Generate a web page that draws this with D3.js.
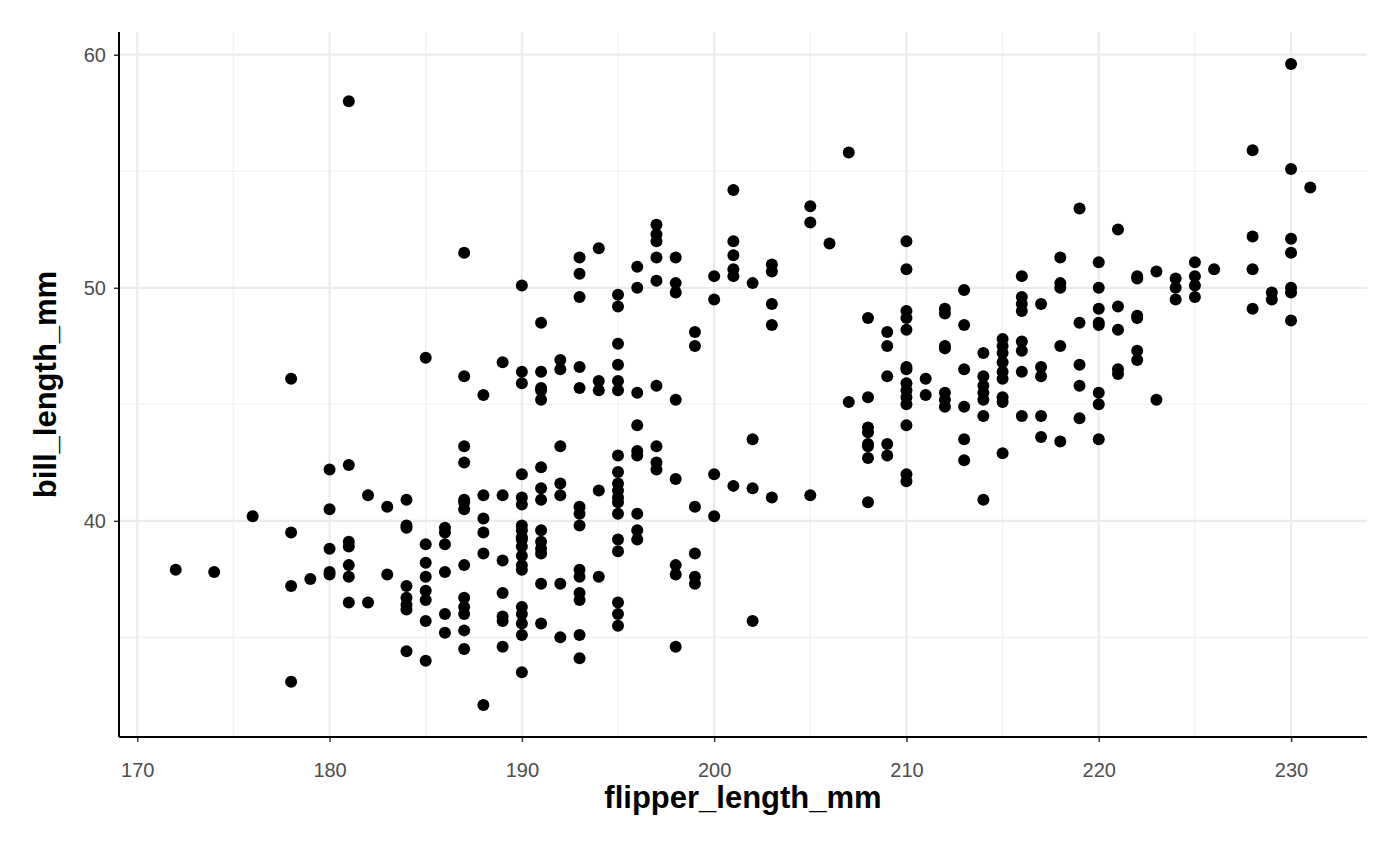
<!DOCTYPE html>
<html>
<head>
<meta charset="utf-8">
<script src="https://cdn.jsdelivr.net/npm/d3@7"></script>
<style>
  body { margin: 0; background: #fff; }
  svg text { font-family: "Liberation Sans", Arial, sans-serif; }
</style>
</head>
<body>
<svg id="chart"></svg>
<script>
"use strict";

// flipper length values (integer mm) and the bill lengths seen at each one
const flipperValues = [172, 174, 176, 178, 179, 180, 181, 182, 183, 184, 185, 186, 187, 188, 189,
    190, 191, 192, 193, 194, 195, 196, 197, 198, 199, 200, 201, 202, 203, 205, 206, 207, 208, 209,
    210, 211, 212, 213, 214, 215, 216, 217, 218, 219, 220, 221, 222, 223, 224, 225, 226, 228, 229,
    230, 231];

const billLengths = [
    [37.9],
    [37.8],
    [40.2],
    [46.1, 39.5, 37.2, 33.1],
    [37.5],
    [42.2, 40.5, 38.8, 37.8, 37.7],
    [58.0, 42.4, 39.1, 38.9, 38.1, 37.6, 36.5],
    [41.1, 36.5],
    [40.6, 37.7],
    [40.9, 39.8, 39.7, 37.2, 36.7, 36.4, 36.2, 34.4],
    [47.0, 39.0, 38.2, 37.6, 37.0, 36.6, 35.7, 34.0],
    [39.7, 39.5, 39.0, 37.8, 36.0, 35.2],
    [51.5, 46.2, 43.2, 42.5, 40.9, 40.8, 40.5, 38.1, 36.7, 36.3, 36.0, 35.3, 34.5],
    [45.4, 41.1, 40.1, 39.5, 38.6, 32.1],
    [46.8, 41.1, 38.3, 36.9, 35.9, 35.7, 34.6],
    [50.1, 46.4, 45.9, 42.0, 41.0, 40.7, 39.8, 39.6, 39.3, 39.2, 38.9, 38.5, 38.1, 37.9, 36.3, 36.0, 35.6, 35.1, 33.5],
    [48.5, 46.4, 45.7, 45.6, 45.2, 42.3, 41.4, 40.9, 39.6, 39.1, 38.8, 38.6, 37.3, 35.6],
    [46.9, 46.5, 43.2, 41.6, 41.1, 37.3, 35.0],
    [51.3, 50.6, 49.6, 46.6, 45.7, 40.6, 40.3, 39.8, 37.9, 37.6, 36.9, 36.6, 35.1, 34.1],
    [51.7, 46.0, 45.6, 41.3, 37.6],
    [49.7, 49.2, 47.6, 46.7, 46.0, 45.6, 42.8, 42.1, 41.6, 41.3, 41.0, 40.8, 40.3, 39.2, 38.7, 36.5, 36.0, 35.5],
    [50.9, 50.0, 45.5, 44.1, 43.0, 42.8, 40.3, 39.6, 39.2],
    [52.7, 52.3, 52.0, 51.3, 50.3, 45.8, 43.2, 42.5, 42.2],
    [51.3, 50.2, 49.8, 45.2, 41.8, 38.1, 37.7, 34.6],
    [48.1, 47.5, 40.6, 38.6, 37.6, 37.3],
    [50.5, 49.5, 42.0, 40.2],
    [54.2, 52.0, 51.4, 50.8, 50.5, 41.5],
    [50.2, 43.5, 41.4, 35.7],
    [51.0, 50.7, 49.3, 48.4, 41.0],
    [53.5, 52.8, 41.1],
    [51.9],
    [55.8, 45.1],
    [48.7, 45.3, 44.0, 43.8, 43.3, 43.2, 42.7, 40.8],
    [48.1, 47.5, 46.2, 43.3, 42.8],
    [52.0, 50.8, 49.0, 48.7, 48.2, 46.6, 46.5, 45.9, 45.6, 45.3, 45.0, 44.1, 42.0, 41.7],
    [46.1, 45.4],
    [49.1, 48.9, 47.5, 47.4, 45.5, 45.2, 44.9],
    [49.9, 48.4, 46.5, 44.9, 43.5, 42.6],
    [47.2, 46.2, 45.8, 45.5, 45.2, 44.5, 40.9],
    [47.8, 47.5, 47.2, 46.8, 46.4, 46.1, 45.3, 45.1, 42.9],
    [50.5, 49.6, 49.3, 49.0, 47.7, 47.3, 46.4, 44.5],
    [49.3, 46.6, 46.2, 44.5, 43.6],
    [51.3, 50.2, 50.0, 47.5, 43.4],
    [53.4, 48.5, 46.7, 45.8, 44.4],
    [51.1, 50.0, 49.1, 48.5, 48.4, 45.5, 45.0, 43.5],
    [52.5, 49.2, 48.2, 46.5, 46.3],
    [50.5, 50.4, 48.8, 48.7, 47.3, 46.9],
    [50.7, 45.2],
    [50.4, 50.0, 49.5],
    [51.1, 50.5, 50.1, 49.6],
    [50.8],
    [55.9, 52.2, 50.8, 49.1],
    [49.8, 49.5],
    [59.6, 55.1, 52.1, 51.5, 50.0, 49.8, 48.6],
    [54.3]
];

const xTicks = [170, 180, 190, 200, 210, 220, 230];
const xMinor = [175, 185, 195, 205, 215, 225];
const yTicks = [40, 50, 60];
const yMinor = [35, 45, 55];

const points = [];
flipperValues.forEach((f, i) => {
    billLengths[i].forEach(b => points.push({ flipper: f, bill: b }));
});

const width = 1400;
const height = 865;
const panel = { left: 119, right: 1367, top: 32, bottom: 737 };

// ggplot style 5% expansion around data range
const xExtent = d3.extent(points, d => d.flipper);
const yExtent = d3.extent(points, d => d.bill);
const xPad = (xExtent[1] - xExtent[0]) * 0.05;
const yPad = (yExtent[1] - yExtent[0]) * 0.05;

const x = d3.scaleLinear()
    .domain([xExtent[0] - xPad, xExtent[1] + xPad])
    .range([panel.left, panel.right]);
const y = d3.scaleLinear()
    .domain([yExtent[0] - yPad, yExtent[1] + yPad])
    .range([panel.bottom, panel.top]);

const svg = d3.select("#chart")
    .attr("width", width)
    .attr("height", height);

svg.append("rect")
    .attr("width", width)
    .attr("height", height)
    .attr("fill", "#fff");

// grid lines
const grid = svg.append("g");
grid.selectAll(".minor-x")
    .data(xMinor)
    .enter().append("line")
    .attr("x1", d => x(d)).attr("x2", d => x(d))
    .attr("y1", panel.top).attr("y2", panel.bottom)
    .attr("stroke", "#f0f0f0").attr("stroke-width", 1.1);
grid.selectAll(".minor-y")
    .data(yMinor)
    .enter().append("line")
    .attr("x1", panel.left).attr("x2", panel.right)
    .attr("y1", d => y(d)).attr("y2", d => y(d))
    .attr("stroke", "#f0f0f0").attr("stroke-width", 1.1);
grid.selectAll(".major-x")
    .data(xTicks)
    .enter().append("line")
    .attr("x1", d => x(d)).attr("x2", d => x(d))
    .attr("y1", panel.top).attr("y2", panel.bottom)
    .attr("stroke", "#ebebeb").attr("stroke-width", 2.2);
grid.selectAll(".major-y")
    .data(yTicks)
    .enter().append("line")
    .attr("x1", panel.left).attr("x2", panel.right)
    .attr("y1", d => y(d)).attr("y2", d => y(d))
    .attr("stroke", "#ebebeb").attr("stroke-width", 2.2);

// points
svg.append("g")
    .selectAll("circle")
    .data(points)
    .enter().append("circle")
    .attr("cx", d => x(d.flipper))
    .attr("cy", d => y(d.bill))
    .attr("r", 6)
    .attr("fill", "#000");

// axes
const xAxis = svg.append("g")
    .attr("transform", `translate(0,${panel.bottom})`)
    .call(d3.axisBottom(x).tickValues(xTicks).tickSize(5).tickPadding(21));
const yAxis = svg.append("g")
    .attr("transform", `translate(${panel.left},0)`)
    .call(d3.axisLeft(y).tickValues(yTicks).tickSize(5).tickPadding(8));

[xAxis, yAxis].forEach(ax => {
    ax.select(".domain").remove();
    ax.selectAll(".tick line").attr("stroke", "#333").attr("stroke-width", 1.5);
    ax.selectAll(".tick text")
        .attr("fill", "#4d4d4d")
        .style("font-size", "20px");
});

svg.append("line")
    .attr("x1", panel.left).attr("x2", panel.right)
    .attr("y1", panel.bottom).attr("y2", panel.bottom)
    .attr("stroke", "#000").attr("stroke-width", 2);
svg.append("line")
    .attr("x1", panel.left).attr("x2", panel.left)
    .attr("y1", panel.top).attr("y2", panel.bottom)
    .attr("stroke", "#000").attr("stroke-width", 2);

// axis titles
svg.append("text")
    .attr("x", (panel.left + panel.right) / 2)
    .attr("y", 808)
    .attr("text-anchor", "middle")
    .style("font-size", "31px")
    .style("font-weight", "bold")
    .text("flipper_length_mm");

svg.append("text")
    .attr("transform", `translate(56,${(panel.top + panel.bottom) / 2}) rotate(-90)`)
    .attr("text-anchor", "middle")
    .style("font-size", "31px")
    .style("font-weight", "bold")
    .text("bill_length_mm");
</script>
</body>
</html>
